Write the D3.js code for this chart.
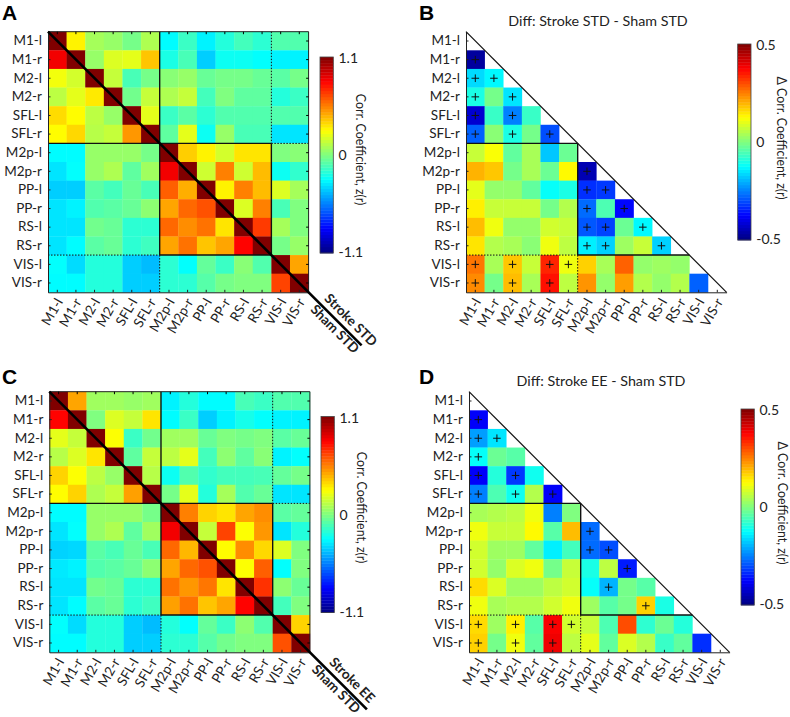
<!DOCTYPE html>
<html>
<head>
<meta charset="utf-8">
<script src="https://cdn.jsdelivr.net/npm/d3@7"></script>
<style>
  body { margin: 0; background: #fff; }
  svg { display: block; }
  text { font-family: Lato, "Open Sans", sans-serif; fill: #222; }
</style>
</head>
<body>
<script>
var regions = ["M1-l","M1-r","M2-l","M2-r","SFL-l","SFL-r","M2p-l","M2p-r","PP-l","PP-r","RS-l","RS-r","VIS-l","VIS-r"];

// full matrices, z(r), row by row
var strokeStd = [
  [1.1,.30,.08,.05,-.02,.10,-.28,-.15,-.30,-.20,-.13,-.18,-.10,-.10],
  [.85,1.1,.05,.20,.22,.40,-.22,-.12,-.38,-.25,-.25,-.27,-.30,-.30],
  [.25,.18,1.1,.15,-.12,-.02,.02,.05,-.05,-.02,-.02,-.05,-.08,-.02],
  [.13,.22,.32,1.1,-.03,.15,.10,.15,-.13,.00,-.07,-.07,-.20,-.15],
  [.35,.28,.13,.05,1.1,.22,-.15,-.08,-.18,-.10,-.10,-.10,-.10,-.10],
  [.28,.36,.12,.15,.50,1.1,-.07,.22,-.25,.05,-.12,-.12,-.33,-.33],
  [-.28,-.28,.05,.05,.05,-.02,1.1,.38,.30,.18,.33,.33,.00,.02],
  [-.33,-.27,.05,.10,-.07,.07,.85,1.1,.17,.55,.17,.42,-.25,-.17],
  [-.38,-.38,-.08,-.13,-.05,-.12,.62,.45,1.1,.30,.55,.42,.20,.08],
  [-.33,-.30,-.10,-.08,-.05,.03,.47,.60,.65,1.1,.20,.55,-.12,.00],
  [-.33,-.33,-.03,-.05,-.18,-.18,.60,.52,.58,.33,1.1,.70,.08,.00],
  [-.33,-.28,-.08,-.05,-.18,-.14,.47,.58,.40,.47,.82,1.1,-.02,.05],
  [-.27,-.35,-.20,-.20,-.38,-.42,-.18,-.27,-.06,-.15,.02,-.10,1.1,.47],
  [-.28,-.28,-.20,-.20,-.38,-.38,-.18,-.18,-.09,-.02,.00,.00,.68,1.1]
];
var strokeEE = [
  [1.1,.47,.07,.07,.05,.07,-.30,-.20,-.28,-.28,-.12,-.15,-.10,-.10],
  [.82,1.1,.00,.20,.15,.33,-.28,-.15,-.38,-.30,-.23,-.27,-.30,-.30],
  [.22,.15,1.1,.27,-.15,-.03,.07,.07,-.05,.00,-.02,.00,-.08,-.05],
  [.12,.20,.33,1.1,-.07,.15,.13,.22,-.13,.03,-.07,.02,-.30,-.27],
  [.37,.27,.13,.05,1.1,.12,-.25,-.10,-.17,-.13,-.13,-.12,-.06,-.02],
  [.28,.37,.10,.15,.48,1.1,-.02,.22,-.20,.08,-.10,-.05,-.33,-.33],
  [-.28,-.28,.05,.05,.05,-.02,1.1,.55,.37,.33,.47,.52,-.08,-.06],
  [-.33,-.27,.05,.10,-.07,.07,.85,1.1,.15,.68,.27,.50,-.33,-.20],
  [-.37,-.36,-.08,-.12,-.05,-.12,.60,.43,1.1,.28,.52,.36,.20,.00],
  [-.32,-.30,-.10,-.08,-.05,.03,.47,.60,.65,1.1,.27,.62,-.27,.00],
  [-.33,-.33,-.03,-.05,-.18,-.18,.58,.50,.57,.33,1.1,.72,.03,-.05],
  [-.33,-.28,-.08,-.05,-.18,-.14,.48,.58,.40,.47,.82,1.1,-.13,.00],
  [-.27,-.35,-.20,-.20,-.38,-.42,-.20,-.27,-.06,-.15,.03,-.10,1.1,.37],
  [-.28,-.28,-.20,-.20,-.38,-.38,-.18,-.18,-.09,-.03,.00,.00,.65,1.1]
];

// lower triangles only, first row is M1-l (empty)
var diffStd = [
  [],
  [-.47],
  [-.16,-.13],
  [-.10,-.01,-.15],
  [-.42,-.07,-.25,-.07],
  [-.28,.01,-.10,-.01,-.30],
  [.07,.12,-.03,.04,-.18,-.02],
  [.20,.18,-.01,.04,-.02,.13,-.45],
  [.10,.02,.02,-.03,-.12,-.10,-.33,-.32],
  [.14,.07,.07,.07,-.01,.05,-.27,-.05,-.37],
  [.19,.11,.02,.02,.08,.07,-.29,-.31,-.02,-.13],
  [.15,.05,.04,.01,.11,.06,-.14,-.17,.03,.07,-.17],
  [.26,.04,.18,.07,.34,.11,.17,.04,.28,.02,.03,.02],
  [.24,-.01,.19,.04,.36,.06,.23,.02,.22,.05,.02,.05,-.28]
];
var diffEE = [
  [],
  [-.38],
  [-.22,-.15],
  [-.12,-.02,-.04],
  [-.38,-.09,-.32,-.11],
  [-.25,-.05,-.11,.05,-.38],
  [.04,.05,.06,.11,-.25,.00],
  [.11,.07,.07,.13,-.04,.19,-.27],
  [.08,.03,.03,-.03,-.14,-.06,-.27,-.30],
  [.08,.02,.09,.11,-.01,.07,-.10,.06,-.35],
  [.16,.09,.03,.03,.06,.08,-.12,-.20,-.01,-.04],
  [.11,.04,.05,.05,.08,.11,.03,-.04,-.01,.17,-.10],
  [.16,.03,.14,-.04,.38,.08,.07,-.05,.30,-.08,-.02,-.09],
  [.17,-.01,.11,-.03,.39,.06,.10,-.03,.09,.05,-.07,-.03,-.33]
];

// significant cells, [row, column]
var sigStd = [[1,0],[2,0],[2,1],[3,0],[3,2],[4,0],[4,2],[5,0],[5,2],[5,4],[7,6],[8,6],[8,7],[9,6],[9,8],[10,6],[10,7],[10,9],[11,6],[11,7],[11,10],[12,0],[12,2],[12,4],[12,5],[13,0],[13,2],[13,4]];
var sigEE = [[1,0],[2,0],[2,1],[3,0],[4,0],[4,2],[5,0],[5,2],[5,4],[7,6],[8,6],[8,7],[9,8],[10,7],[11,9],[12,0],[12,2],[12,4],[12,5],[13,0],[13,2],[13,4]];

var svg = d3.select("body").append("svg").attr("width", 790).attr("height", 717);

// matlab jet
function jet(t) {
  var ramp = function(x) { return Math.round(255 * Math.max(0, Math.min(1, 1.5 - Math.abs(x)))); };
  return "rgb(" + ramp(4 * t - 3) + "," + ramp(4 * t - 2) + "," + ramp(4 * t - 1) + ")";
}

function drawPanel(o) {
  var size = 260.6;
  var g = svg.append("g").attr("transform", "translate(" + o.x + "," + o.y + ")");
  var x = d3.scaleBand().domain(d3.range(14)).range([0, size]);
  var y = d3.scaleBand().domain(d3.range(14)).range([0, size]);
  var color = d3.scaleLinear().domain([-o.max, o.max]).range([0, 1]).clamp(true);

  // cells
  o.values.forEach(function(row, i) {
    g.selectAll(".r" + i).data(row).enter().append("rect")
      .attr("x", function(d, j) { return x(j); })
      .attr("y", y(i))
      .attr("width", x.bandwidth() + 0.3)
      .attr("height", y.bandwidth() + 0.3)
      .attr("fill", function(d) { return jet(color(d)); });
  });

  // module outlines, in cell units
  var line = function(x1, y1, x2, y2, dotted) {
    g.append("line")
      .attr("x1", x1 * x.step()).attr("y1", y1 * y.step())
      .attr("x2", x2 * x.step()).attr("y2", y2 * y.step())
      .attr("stroke", "#111")
      .attr("stroke-width", dotted ? 1 : 1.4)
      .attr("stroke-dasharray", dotted ? "1.5,1.5" : null);
  };
  if (o.full) {
    line(6, 0, 6, 12); line(0, 6, 12, 6); line(12, 6, 12, 12); line(6, 12, 12, 12);
    line(12, 0, 12, 6, true); line(12, 6, 14, 6, true);
    line(0, 12, 6, 12, true); line(6, 12, 6, 14, true);
  } else {
    line(0, 6, 6, 6); line(6, 6, 6, 12); line(6, 12, 12, 12);
    line(0, 12, 6, 12, true); line(6, 12, 6, 14, true);
  }

  // plus marks
  if (o.sig) {
    g.selectAll(".plus").data(o.sig).enter().append("path")
      .attr("d", function(d) {
        var cx = x(d[1]) + x.bandwidth() / 2, cy = y(d[0]) + y.bandwidth() / 2;
        return "M" + (cx - 3.8) + "," + cy + "H" + (cx + 3.8) + "M" + cx + "," + (cy - 3.8) + "V" + (cy + 3.8);
      })
      .attr("stroke", "#111").attr("fill", "none").attr("stroke-width", 1);
  }

  // axes
  var yAxis = d3.axisLeft(y).tickSizeInner(-2.5).tickSizeOuter(0).tickPadding(6).tickFormat(function(d) { return regions[d]; });
  var xAxis = d3.axisBottom(x).tickSizeInner(-2.5).tickSizeOuter(0).tickFormat(function(d) { return regions[d]; });
  var ya = g.append("g").call(yAxis);
  var xa = g.append("g").attr("transform", "translate(0," + size + ")").call(xAxis);
  [ya, xa].forEach(function(a) {
    a.selectAll("text").attr("font-size", 13.5).attr("font-family", null).style("fill", "#222");
    a.selectAll("line").attr("stroke", "#222");
    a.select(".domain").attr("stroke", "#222").attr("stroke-width", 1);
  });
  xa.selectAll("text")
    .attr("text-anchor", "end")
    .attr("y", 0).attr("dy", "0.35em")
    .attr("transform", "translate(2,7) rotate(-60)");

  if (o.full) {
    g.append("path").attr("d", "M0,0H" + size + "V" + size).attr("fill", "none").attr("stroke", "#222").attr("stroke-width", 1);
    var rt = d3.axisRight(y).tickSizeInner(-2.5).tickSizeOuter(0).tickFormat("");
    var tp = d3.axisTop(x).tickSizeInner(-2.5).tickSizeOuter(0).tickFormat("");
    g.append("g").attr("transform", "translate(" + size + ",0)").call(rt).select(".domain").remove();
    g.append("g").call(tp).select(".domain").remove();
    // diagonal running out past the corner
    g.append("line").attr("x1", 0).attr("y1", 0).attr("x2", size + o.tail).attr("y2", size + o.tail)
      .attr("stroke", "#000").attr("stroke-width", 2.6);
    g.append("text").attr("font-size", 13.5).attr("font-weight", 700).attr("text-anchor", "middle")
      .attr("transform", "translate(" + (size + 39) + "," + (size + 31) + ") rotate(45)").text(o.top);
    g.append("text").attr("font-size", 13.5).attr("font-weight", 700).attr("text-anchor", "middle")
      .attr("transform", "translate(" + (size + 23) + "," + (size + 40) + ") rotate(45)").text(o.bottom);
  } else {
    g.append("line").attr("x1", 0).attr("y1", 0).attr("x2", size).attr("y2", size)
      .attr("stroke", "#111").attr("stroke-width", 1.2);
    g.append("text").attr("x", o.titleX).attr("y", -6).attr("text-anchor", "middle")
      .attr("font-size", 14.3).text(o.title);
  }

  // panel letter
  svg.append("text").attr("x", o.letterX).attr("y", o.letterY)
    .attr("font-size", 21).attr("font-weight", 700)
    .style("font-family", "'Liberation Sans'").style("fill", "#000").text(o.letter);

  // colorbar
  var cb = svg.append("g").attr("transform", "translate(" + o.barX + "," + o.barY + ")");
  var barH = 196;
  var cy = d3.scaleLinear().domain([o.max, -o.max]).range([1, barH - 1]);
  cb.selectAll("rect").data(d3.range(64)).enter().append("rect")
    .attr("x", 0)
    .attr("y", function(d) { return barH - (d + 1) * barH / 64; })
    .attr("width", 13.3)
    .attr("height", barH / 64 + 0.4)
    .attr("fill", function(d) { return jet((d + 0.5) / 64); });
  cb.append("rect").attr("width", 13.3).attr("height", barH)
    .attr("fill", "none").attr("stroke", "#444").attr("stroke-width", 0.8);
  cb.selectAll(".tl").data([o.max, 0, -o.max]).enter().append("text")
    .attr("x", 18.5)
    .attr("y", function(d) { return cy(d) + 5; })
    .attr("font-size", 14)
    .text(function(d) { return d; });
  cb.append("text")
    .attr("transform", "translate(" + o.labelDx + "," + (barH / 2 + o.labelDy) + ") rotate(90)")
    .attr("text-anchor", "middle").attr("font-size", 12.4).text(o.barLabel);
}

drawPanel({ letter: "A", letterX: 2, letterY: 20, x: 48, y: 31.7, full: true, values: strokeStd, max: 1.1, tail: 53,
  top: "Stroke STD", bottom: "Sham STD", barX: 320, barY: 57, labelDx: 36, labelDy: -5.5, barLabel: "Corr. Coefficient, z(r)" });
drawPanel({ letter: "B", letterX: 419, letterY: 20, x: 466, y: 31.7, values: diffStd, sig: sigStd, max: 0.5,
  title: "Diff: Stroke STD - Sham STD", titleX: 132, barX: 737.7, barY: 44, labelDx: 39, labelDy: -4, barLabel: "\u0394 Corr. Coefficient, z(r)" });
drawPanel({ letter: "C", letterX: 2, letterY: 383.5, x: 49.3, y: 391.7, full: true, values: strokeEE, max: 1.1, tail: 57,
  top: "Stroke EE", bottom: "Sham STD", barX: 321, barY: 416.5, labelDx: 36, labelDy: -7, barLabel: "Corr. Coefficient, z(r)" });
drawPanel({ letter: "D", letterX: 419, letterY: 383.5, x: 469, y: 391.7, values: diffEE, sig: sigEE, max: 0.5,
  title: "Diff: Stroke EE - Sham STD", titleX: 132, barX: 741, barY: 409, labelDx: 36.5, labelDy: -4, barLabel: "\u0394 Corr. Coefficient, z(r)" });
</script>
</body>
</html>
